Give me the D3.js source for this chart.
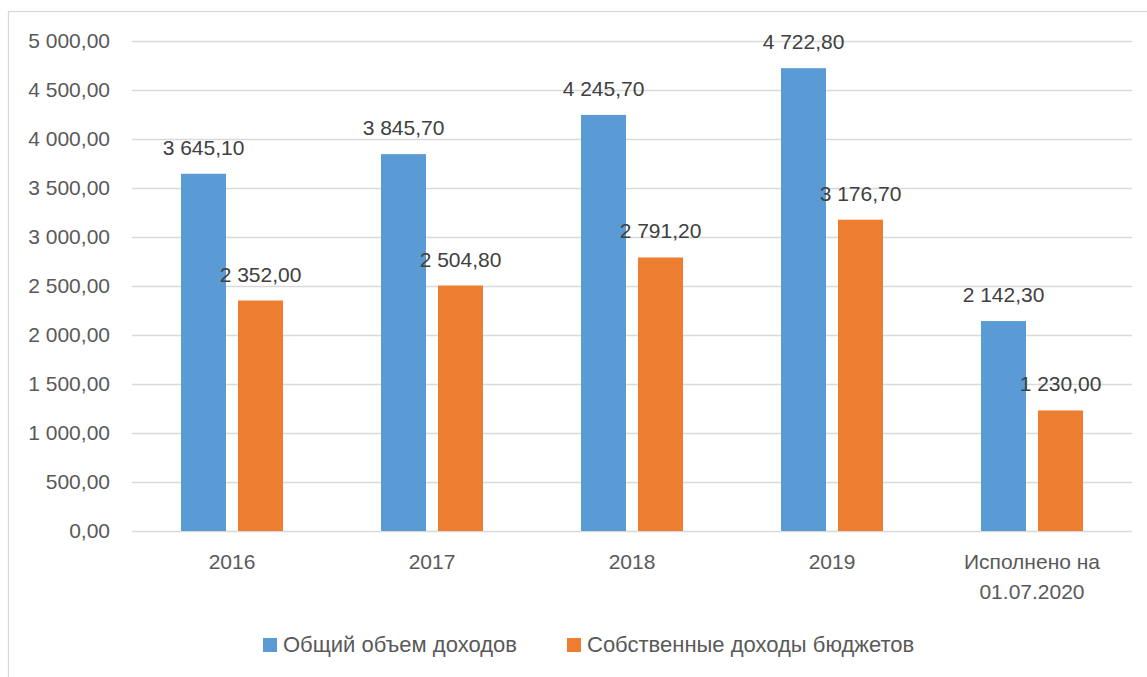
<!DOCTYPE html>
<html>
<head>
<meta charset="utf-8">
<script src="https://cdn.jsdelivr.net/npm/d3@7"></script>
<style>
  html, body { margin: 0; padding: 0; background: #fff; }
  svg { display: block; }
  text { font-family: "Liberation Sans", Arial, sans-serif; }
</style>
</head>
<body>
<svg id="chart" width="1147" height="677"></svg>
<script>
const categories = ["2016", "2017", "2018", "2019", "Исполнено на\n01.07.2020"];
const seriesNames = ["Общий объем доходов", "Собственные доходы бюджетов"];
const totalIncome = [3645.10, 3845.70, 4245.70, 4722.80, 2142.30];
const ownIncome = [2352.00, 2504.80, 2791.20, 3176.70, 1230.00];
const yTicks = [0, 500, 1000, 1500, 2000, 2500, 3000, 3500, 4000, 4500, 5000];
const colors = ["#5b9bd5", "#ed7d31"];

const fmt = v => {
  const s = v.toFixed(2).split(".");
  const int = s[0].replace(/\B(?=(\d{3})+(?!\d))/g, " ");
  return int + "," + s[1];
};

const svg = d3.select("#chart");
const W = 1147, H = 677;
const plot = { left: 132, right: 1132, top: 41, bottom: 531 };

// outer border
svg.append("rect")
  .attr("x", 8.5).attr("y", 11.5)
  .attr("width", W + 10).attr("height", H + 10)
  .attr("fill", "none").attr("stroke", "#d9d9d9").attr("stroke-width", 1.3);

const y = d3.scaleLinear().domain([0, 5000]).range([plot.bottom, plot.top]);
const x0 = d3.scaleBand().domain(categories).range([plot.left, plot.right])
  .paddingInner(0.49).paddingOuter(0.245);
const x1 = d3.scaleBand().domain(seriesNames).range([0, x0.bandwidth()])
  .paddingInner(12 / 57).paddingOuter(0);

// gridlines
svg.append("g").selectAll("line").data(yTicks).join("line")
  .attr("x1", plot.left).attr("x2", plot.right)
  .attr("y1", d => Math.round(y(d)) + 0.5).attr("y2", d => Math.round(y(d)) + 0.5)
  .attr("stroke", "#d9d9d9").attr("stroke-width", 1.3);

// y axis labels
const yAxis = d3.axisLeft(y).tickValues(yTicks).tickFormat(fmt).tickSize(0).tickPadding(0);
const gy = svg.append("g").attr("transform", `translate(110,0)`).call(yAxis);
gy.select(".domain").remove();
gy.selectAll("text")
  .attr("fill", "#595959").style("font-size", "21px")
  .style("font-family", '"Liberation Sans", Arial, sans-serif');

const data = categories.map((c, i) => ({ cat: c, vals: [totalIncome[i], ownIncome[i]] }));

const groups = svg.append("g").selectAll("g").data(data).join("g")
  .attr("transform", d => `translate(${x0(d.cat)},0)`);

groups.selectAll("rect").data(d => d.vals.map((v, j) => ({ v, s: seriesNames[j], j })))
  .join("rect")
  .attr("x", d => x1(d.s)).attr("width", x1.bandwidth())
  .attr("y", d => y(d.v)).attr("height", d => y(0) - y(d.v))
  .attr("fill", d => colors[d.j]);

groups.selectAll("text.lbl").data(d => d.vals.map((v, j) => ({ v, s: seriesNames[j], j })))
  .join("text").attr("class", "lbl")
  .attr("x", d => x1(d.s) + x1.bandwidth() / 2)
  .attr("y", d => y(d.v) - 19)
  .attr("text-anchor", "middle")
  .attr("fill", "#404040").style("font-size", "21px")
  .text(d => fmt(d.v));

// x axis labels
const gx = svg.append("g");
data.forEach(d => {
  const lines = d.cat.split("\n");
  const t = gx.append("text")
    .attr("x", x0(d.cat) + x0.bandwidth() / 2)
    .attr("y", 569)
    .attr("text-anchor", "middle")
    .attr("fill", "#595959").style("font-size", "21px");
  lines.forEach((ln, k) => {
    t.append("tspan").attr("x", x0(d.cat) + x0.bandwidth() / 2)
      .attr("y", 569 + k * 30).text(ln);
  });
});

// legend
const legendPos = [263, 567];
const lg = svg.append("g");
seriesNames.forEach((s, i) => {
  lg.append("rect").attr("x", legendPos[i]).attr("y", 638)
    .attr("width", 14).attr("height", 14).attr("fill", colors[i]);
  lg.append("text").attr("x", legendPos[i] + 20).attr("y", 652)
    .attr("fill", "#595959").style("font-size", "22px").text(s);
});
</script>
</body>
</html>
